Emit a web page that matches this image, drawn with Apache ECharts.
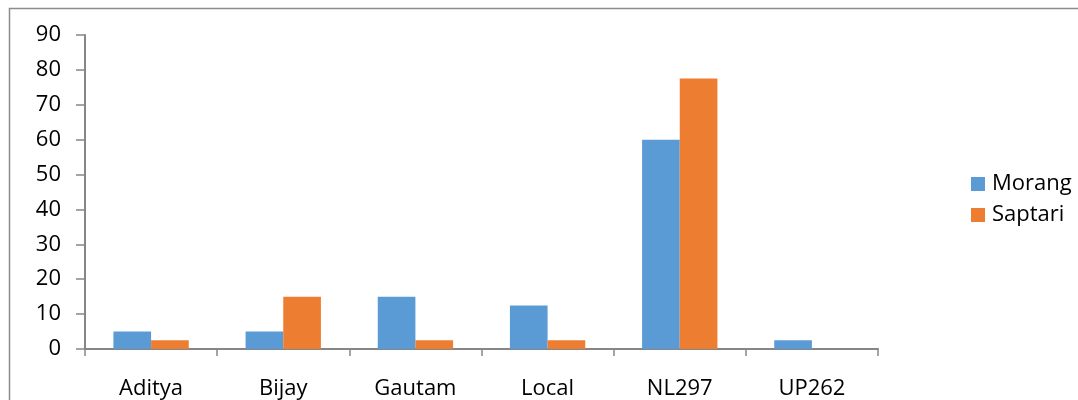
<!DOCTYPE html>
<html>
<head>
<meta charset="utf-8">
<script src="https://cdn.jsdelivr.net/npm/echarts@6/dist/echarts.min.js"></script>
<style>html,body{margin:0;padding:0;background:#fff}#c{width:1078px;height:400px}</style>
</head>
<body>
<div id="c"></div>
<script>
const categories = ['Aditya', 'Bijay', 'Gautam', 'Local', 'NL297', 'UP262'];
const morang = [5, 5, 15, 12.5, 60, 2.5];
const saptari = [2.5, 15, 2.5, 2.5, 77.5, 0];
const seriesNames = ['Morang', 'Saptari'];

const chart = echarts.init(document.getElementById('c'), null, {renderer: 'canvas'});
const font = 'Open Sans';
chart.setOption({
  animation: false,
  textStyle: {fontFamily: font},
  graphic: [{
    type: 'rect', left: 7, top: 6, z: 100,
    shape: {x: 0, y: 0, width: 1080, height: 393},
    style: {fill: 'none', stroke: '#8c8c8c', lineWidth: 1.5},
    silent: true
  }],
  grid: {left: 85, right: 200, top: 35, bottom: 50, containLabel: false},
  legend: {
    orient: 'vertical', left: 966, top: 168, itemWidth: 14, itemHeight: 14, itemGap: 9,
    icon: 'rect',
    textStyle: {fontSize: 22, color: '#000', fontFamily: font, padding: [0, 0, 0, 2]},
    data: seriesNames
  },
  xAxis: {
    type: 'category', data: categories,
    axisLine: {lineStyle: {color: '#868686', width: 2}},
    axisTick: {show: true, length: 7, alignWithLabel: false, lineStyle: {color: '#868686', width: 1.5}},
    axisLabel: {color: '#000', fontSize: 22, margin: 29, fontFamily: font}
  },
  yAxis: {
    type: 'value', min: 0, max: 90, interval: 10,
    axisLine: {show: true, lineStyle: {color: '#868686', width: 2}},
    axisTick: {show: true, length: 9, lineStyle: {color: '#868686', width: 1.5}},
    splitLine: {show: false},
    axisLabel: {color: '#000', fontSize: 22, margin: 24, fontFamily: font}
  },
  series: [
    {name: seriesNames[0], type: 'bar', data: morang, barGap: '0%', barCategoryGap: '43%',
     itemStyle: {color: '#5B9BD5'}},
    {name: seriesNames[1], type: 'bar', data: saptari, barGap: '0%', barCategoryGap: '43%',
     itemStyle: {color: '#ED7D31'}}
  ]
});
</script>
</body>
</html>
